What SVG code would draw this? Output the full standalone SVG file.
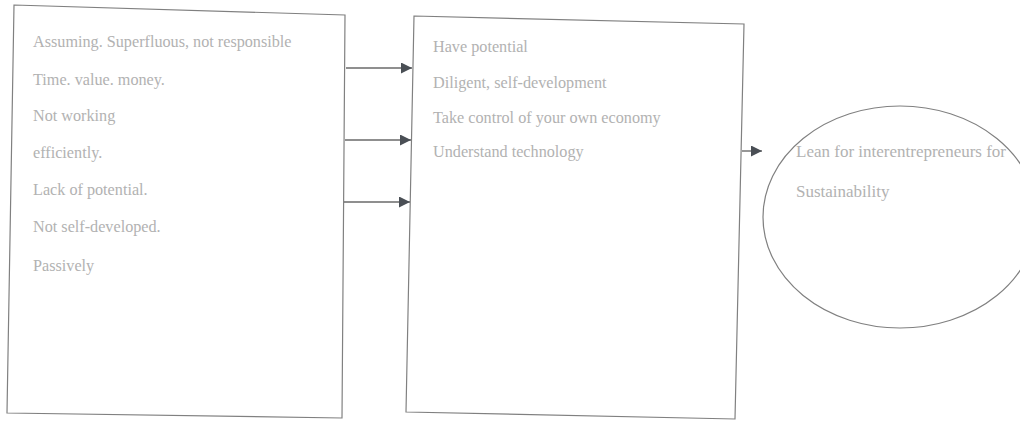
<svg xmlns="http://www.w3.org/2000/svg" width="1020" height="421" viewBox="0 0 1020 421">
<style>
.box{fill:#fff;stroke:#808080;stroke-width:1.2}
.t{font-family:"Liberation Serif","Times New Roman",serif;font-size:16.2px;fill:#b2b2b2}
.e{font-size:17px}
.c{stroke:#6a6a6a;stroke-width:1.4;fill:none}
</style>
<defs>
<marker id="ah" viewBox="0 0 10 10" refX="10" refY="5" markerWidth="13" markerHeight="11" markerUnits="userSpaceOnUse" orient="auto">
<path d="M0,0 L10,5 L0,10 Z" fill="#4a4f55"/>
</marker>
</defs>
<rect width="1020" height="421" fill="#fff"/>
<g id="node-left">
<polygon class="box" points="14,5 345,15 342,418 7,413"/>
<text class="t" x="33" y="47">Assuming. Superfluous, not responsible</text>
<text class="t" x="33" y="85">Time. value. money.</text>
<text class="t" x="33" y="121">Not working</text>
<text class="t" x="33" y="158">efficiently.</text>
<text class="t" x="33" y="195">Lack of potential.</text>
<text class="t" x="33" y="232">Not self-developed.</text>
<text class="t" x="33" y="271">Passively</text>
</g>
<g id="node-middle">
<polygon class="box" points="414,16 744,24 735,419 406,412"/>
<text class="t" x="433" y="52">Have potential</text>
<text class="t" x="433" y="88">Diligent, self-development</text>
<text class="t" x="433" y="123">Take control of your own economy</text>
<text class="t" x="433" y="157">Understand technology</text>
</g>
<g id="node-right">
<ellipse class="box" cx="900" cy="217" rx="137" ry="111"/>
<text class="t e" x="796" y="157">Lean for interentrepreneurs for</text>
<text class="t e" x="796" y="197">Sustainability</text>
</g>
<g id="connectors">
<line class="c" x1="346" y1="68" x2="412" y2="68" marker-end="url(#ah)"/>
<line class="c" x1="345" y1="140" x2="411" y2="140" marker-end="url(#ah)"/>
<line class="c" x1="344" y1="202" x2="410" y2="202" marker-end="url(#ah)"/>
<line class="c" x1="742" y1="151" x2="762" y2="151" marker-end="url(#ah)"/>
</g>
</svg>
